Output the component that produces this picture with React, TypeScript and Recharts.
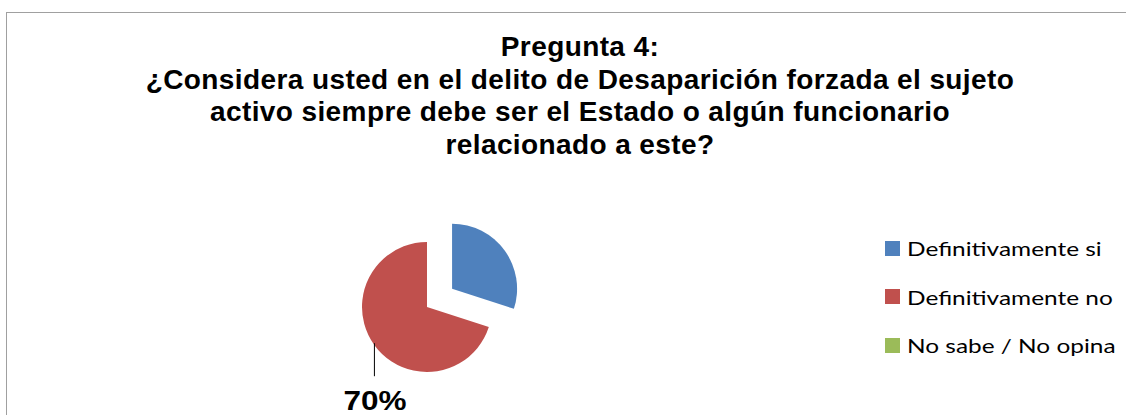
import { PieChart, Pie, Cell, Legend } from 'recharts'

const categorias = ['Definitivamente si', 'Definitivamente no', 'No sabe / No opina']
const valores = [30, 70, 0]
const colores = ['#4F81BD', '#C0504D', '#9BBB59']
const titulo = [
  'Pregunta 4:',
  '¿Considera usted en el delito de Desaparición forzada el sujeto',
  'activo siempre debe ser el Estado o algún funcionario',
  'relacionado a este?',
]

const data = categorias.map((name, i) => ({ name, value: valores[i] }))

const CX = 427
const CY = 307
const R = 65
const EXPLODE = 31

// slice 0 sits apart from the rest, pushed out along its own mid angle
const total = valores.reduce((a, b) => a + b, 0)
const midBlue = 90 - (valores[0] / total) * 360 / 2
const RAD = Math.PI / 180
const bx = CX + EXPLODE * Math.cos(midBlue * RAD)
const by = CY - EXPLODE * Math.sin(midBlue * RAD)

const renderLabel = (props: any) => {
  const { cx, cy, midAngle, outerRadius, percent, index } = props
  if (index !== 1) return null
  const x = cx + outerRadius * Math.cos(-midAngle * RAD)
  const y = cy + outerRadius * Math.sin(-midAngle * RAD)
  return (
    <g>
      <line x1={x} y1={y - 2} x2={x} y2={y + 31} stroke="#000" strokeWidth={1} />
      <text x={x - 31} y={y + 65} textLength={63} lengthAdjust="spacingAndGlyphs"
        fontFamily="'Liberation Sans', Arial, sans-serif" fontWeight="bold" fontSize={27} fill="#000">
        {`${Math.round(percent * 100)}%`}
      </text>
    </g>
  )
}

const renderLegend = () => (
  <div style={{ fontFamily: 'Lato, Calibri, sans-serif', fontSize: 20, color: '#000' }}>
    {categorias.map((c, i) => (
      <div key={c} style={{ display: 'flex', alignItems: 'center', height: 48.5 }}>
        <span style={{ width: 15, height: 15, background: colores[i], display: 'inline-block', marginRight: 7, flexShrink: 0 }} />
        <span style={{ display: 'inline-block', whiteSpace: 'nowrap', transform: 'scaleX(1.22)', transformOrigin: 'left center' }}>{c}</span>
      </div>
    ))}
  </div>
)

export default function App() {
  return (
    <div style={{ position: 'fixed', left: 0, top: 0, width: 1126, height: 415, overflow: 'hidden', background: '#fff' }}>
      <div style={{ position: 'absolute', left: 6, top: 12, width: 1200, height: 500, border: '1px solid #a0a0a0' }} />
      <div style={{
        position: 'absolute', left: 0, top: 31, width: 1160, textAlign: 'center',
        fontFamily: "'Liberation Sans', Arial, sans-serif", fontWeight: 'bold', fontSize: 28, letterSpacing: 0.4,
        lineHeight: '32.7px', color: '#000',
      }}>
        {titulo.map(t => <div key={t}>{t}</div>)}
      </div>
      <div style={{ position: 'absolute', left: 0, top: 0 }}>
        <PieChart width={1126} height={415} margin={{ top: 0, right: 0, bottom: 0, left: 0 }}>
          <Pie data={data} dataKey="value" nameKey="name" cx={CX} cy={CY} outerRadius={R}
            startAngle={90} endAngle={-270} stroke="none" isAnimationActive={false}
            label={renderLabel} labelLine={false}>
            {data.map((d, i) => <Cell key={d.name} fill={i === 0 ? 'transparent' : colores[i]} />)}
          </Pie>
          <Pie data={data} dataKey="value" nameKey="name" cx={bx} cy={by} outerRadius={R}
            startAngle={90} endAngle={-270} stroke="none" isAnimationActive={false}>
            {data.map((d, i) => <Cell key={d.name} fill={i === 0 ? colores[i] : 'transparent'} />)}
          </Pie>
          <Legend content={renderLegend} wrapperStyle={{ left: 885, top: 224, width: 240 }} />
        </PieChart>
      </div>
    </div>
  )
}
